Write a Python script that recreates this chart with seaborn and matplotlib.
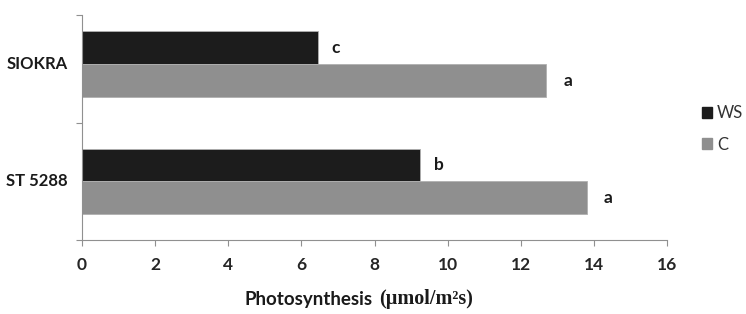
import matplotlib
matplotlib.use("Agg")
import matplotlib.pyplot as plt
import seaborn as sns
import pandas as pd
from matplotlib.patches import Patch

genotypes = ["SIOKRA", "ST 5288"]
treatments = ["WS", "C"]
ws_values = [6.45, 9.25]
c_values = [12.68, 13.8]
letters_ws = ["c", "b"]
letters_c = ["a", "a"]
x_ticks = [0, 2, 4, 6, 8, 10, 12, 14, 16]

df = pd.DataFrame({
    "Genotype": genotypes * 2,
    "Treatment": ["WS"] * 2 + ["C"] * 2,
    "Value": ws_values + c_values,
})

sns.set_style("white")
plt.rcParams["font.family"] = ["Lato", "DejaVu Sans"]

fig = plt.figure(figsize=(7.46, 3.14), dpi=100)
ax = fig.add_axes([82 / 746, 74 / 314, 585 / 746, 225 / 314])

palette = {"WS": "#1c1c1c", "C": "#8f8f8f"}
sns.barplot(data=df, y="Genotype", x="Value", hue="Treatment", order=genotypes,
            hue_order=treatments, palette=palette, orient="h", width=0.56,
            saturation=1, edgecolor="#b0b0b0", linewidth=0.6, ax=ax, legend=False)

ax.set_xlim(0, 16)
ax.set_ylim(1.5, -0.42)
ax.set_xticks(x_ticks)
ax.set_xticklabels([str(t) for t in x_ticks], fontsize=12.5, fontweight="bold")
ax.set_yticks([-0.42, 0.5, 1.5])
ax.set_yticklabels([])
ax.tick_params(axis="both", length=4, width=0.8, color="#909090", direction="out",
               left=True, bottom=True)
ax.tick_params(axis="x", pad=8)
for i, g in enumerate(genotypes):
    ax.text(-0.4, i, g, ha="right", va="center", fontsize=12, fontweight="bold",
            color="#1a1a1a")
ax.set_xlabel("")
ax.set_ylabel("")
for s in ["top", "right"]:
    ax.spines[s].set_visible(False)
for s in ["left", "bottom"]:
    ax.spines[s].set_color("#909090")
    ax.spines[s].set_linewidth(0.8)

# significance letters
for i in range(len(genotypes)):
    ax.text(ws_values[i] + 0.38, i - 0.14, letters_ws[i], ha="left", va="center",
            fontsize=12.5, fontweight="bold", color="#1a1a1a")
    ax.text(c_values[i] + 0.48, i + 0.14, letters_c[i], ha="left", va="center",
            fontsize=12.5, fontweight="bold", color="#1a1a1a")

# legend
handles = [Patch(facecolor=palette[t], edgecolor=palette[t]) for t in treatments]
leg = fig.legend(handles, treatments, loc="center left",
                 bbox_to_anchor=(702 / 746, 1 - 129 / 314), frameon=False,
                 borderpad=0, borderaxespad=0,
                 fontsize=12, handlelength=0.6, handleheight=0.6,
                 handletextpad=0.3, labelspacing=0.9)
for t in leg.get_texts():
    t.set_color("#333333")

# axis label: sans part + serif unit part
fig.text(245 / 746, 1 - 299 / 314, "Photosynthesis", ha="left", va="center",
         fontsize=13.5, fontweight="bold", color="#1a1a1a")
fig.text(379 / 746, 1 - 299 / 314, "(\u00b5mol/m\u00b2s)", ha="left", va="center",
         fontsize=14.5, fontweight="bold", family=["Liberation Serif", "DejaVu Serif"],
         color="#1a1a1a")

fig.savefig("out.png", dpi=100)
